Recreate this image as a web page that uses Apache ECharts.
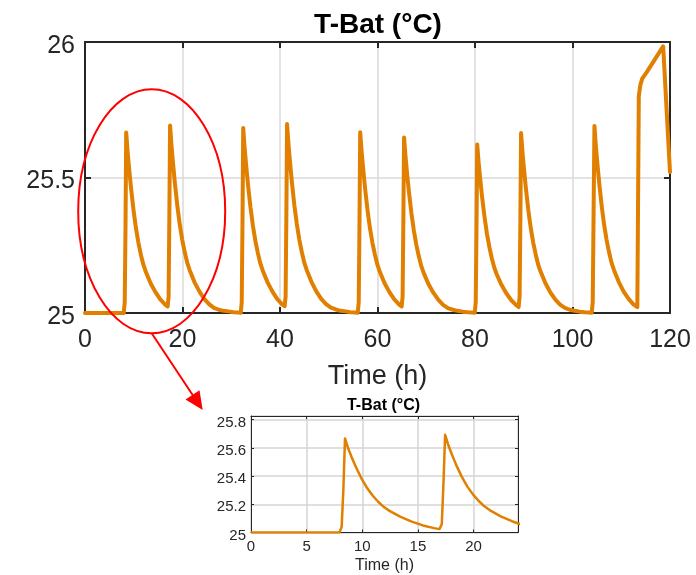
<!DOCTYPE html>
<html>
<head>
<meta charset="utf-8">
<script src="https://cdn.jsdelivr.net/npm/echarts@6/dist/echarts.min.js"></script>
<style>
html,body{margin:0;padding:0;background:#fff;}
#c{width:696px;height:575px;}
</style>
</head>
<body>
<div id="c"></div>
<script>
// ---- data: [time (h), battery temperature (°C)] ----
var day1 = [
  [0,25],[7.95,25.0],[8.15,25.04],[8.3,25.3],[8.45,25.666],
  [8.75,25.593],[9.05,25.533],[9.45,25.46],[9.95,25.38],[10.45,25.313],[10.95,25.26],[11.45,25.216],[11.95,25.18],[12.45,25.153],[13.45,25.11],[14.45,25.077],[15.45,25.05],[16.45,25.031],[16.95,25.024],
  [17.15,25.06],[17.3,25.35],[17.45,25.692],
  [17.75,25.616],[18.05,25.554],[18.45,25.477],[18.95,25.394],[19.45,25.325],[19.95,25.27],[20.45,25.225],[20.95,25.187],[21.45,25.159],[22.45,25.114],[23.45,25.08]
];
var day2 = [
  [24.45,25.052],[25.45,25.033],[26.45,25.019],[27.45,25.012],[28.45,25.008],[29.45,25.006],[30.45,25.003],[31.45,25.002],[31.95,25.001],
  [32.15,25.04],[32.3,25.32],[32.45,25.683],
  [32.75,25.608],[33.05,25.546],[33.45,25.471],[33.95,25.389],[34.45,25.321],[34.95,25.266],[35.45,25.222],[35.95,25.184],[36.45,25.157],[37.45,25.113],[38.45,25.079],[39.45,25.051],[40.45,25.032],[40.95,25.025],
  [41.15,25.06],[41.3,25.35],[41.45,25.697],
  [41.75,25.62],[42.05,25.558],[42.45,25.481],[42.95,25.397],[43.45,25.328],[43.95,25.272],[44.45,25.227],[44.95,25.188],[45.45,25.16],[46.45,25.115],[47.45,25.08]
];
var day3 = [
  [48.45,25.052],[49.45,25.033],[50.45,25.02],[51.45,25.013],[52.45,25.008],[53.45,25.006],[54.45,25.003],[55.45,25.002],[55.95,25.001],
  [56.15,25.04],[56.3,25.32],[56.45,25.667],
  [56.75,25.594],[57.05,25.534],[57.45,25.46],[57.95,25.38],[58.45,25.313],[58.95,25.26],[59.45,25.217],[59.95,25.18],[60.45,25.153],[61.45,25.11],[62.45,25.077],[63.45,25.05],[64.45,25.031],[64.95,25.024],
  [65.15,25.06],[65.3,25.33],[65.45,25.648],
  [65.75,25.577],[66.05,25.518],[66.45,25.447],[66.95,25.369],[67.45,25.305],[67.95,25.253],[68.45,25.211],[68.95,25.175],[69.45,25.149],[70.45,25.107],[71.45,25.075]
];
var day4 = [
  [72.45,25.049],[73.45,25.03],[74.45,25.018],[75.45,25.012],[76.45,25.008],[77.45,25.005],[78.45,25.003],[79.45,25.002],[79.95,25.001],
  [80.15,25.04],[80.3,25.3],[80.45,25.622],
  [80.75,25.554],[81.05,25.498],[81.45,25.429],[81.95,25.355],[82.45,25.292],[82.95,25.243],[83.45,25.202],[83.95,25.168],[84.45,25.143],[85.45,25.103],[86.45,25.072],[87.45,25.047],[88.45,25.029],[88.95,25.022],
  [89.15,25.06],[89.3,25.33],[89.45,25.664],
  [89.75,25.591],[90.05,25.531],[90.45,25.458],[90.95,25.378],[91.45,25.312],[91.95,25.259],[92.45,25.216],[92.95,25.179],[93.45,25.153],[94.45,25.11],[95.45,25.076]
];
var day5 = [
  [96.45,25.05],[97.45,25.031],[98.45,25.019],[99.45,25.012],[100.45,25.008],[101.45,25.005],[102.45,25.003],[103.45,25.002],[103.95,25.001],
  [104.15,25.04],[104.3,25.32],[104.5,25.69],
  [104.8,25.614],[105.1,25.552],[105.5,25.476],[106,25.393],[106.5,25.324],[107,25.269],[107.5,25.224],[108,25.186],[108.5,25.159],[109.5,25.114],[110.5,25.079],[111.5,25.052],[112.5,25.032],[113.3,25.022],
  [113.6,25.80],[113.9,25.84],[114.3,25.865],[115.2,25.888],[118.6,25.984],[120,25.52]
];
var tempSeries = day1.concat(day2, day3, day4, day5);

var titleText = 'T-Bat (°C)';
var xName = 'Time (h)';
var mainX = {min: 0, max: 120, interval: 20};
var mainY = {min: 25, max: 26, interval: 0.5};
var insetX = {min: 0, max: 24, interval: 5};
var insetY = {min: 25, max: 25.825, interval: 0.2};

var FONT = '"Liberation Sans", Arial, Helvetica, sans-serif';
var DARK = '#262626';
var ORANGE = '#E07F00';

function boxAxis(gridIndex, pos, rng, tickLen, lw) {
  return {
    type: 'value', gridIndex: gridIndex, position: pos,
    min: rng.min, max: rng.max, interval: rng.interval,
    axisLine: {show: true, onZero: false, lineStyle: {color: DARK, width: lw}},
    axisTick: {show: true, inside: true, length: tickLen, lineStyle: {color: DARK, width: lw}},
    axisLabel: {show: false},
    splitLine: {show: false}
  };
}

var chart = echarts.init(document.getElementById('c'));
chart.setOption({
  animation: false,
  backgroundColor: '#fff',
  title: [
    {text: titleText, left: 373, top: 6, textAlign: 'center',
     textStyle: {fontFamily: FONT, fontWeight: 'bold', fontSize: 28, color: '#000'}},
    {text: titleText, left: 378.5, top: 393, textAlign: 'center',
     textStyle: {fontFamily: FONT, fontWeight: 'bold', fontSize: 16, color: '#000'}}
  ],
  grid: [
    {left: 85, right: 26, top: 42, bottom: 262, containLabel: false},
    {left: 251, right: 178, top: 416, bottom: 42.5, containLabel: false}
  ],
  xAxis: [
    {
      type: 'value', gridIndex: 0, position: 'bottom',
      min: mainX.min, max: mainX.max, interval: mainX.interval,
      name: xName, nameLocation: 'middle', nameGap: 50,
      nameTextStyle: {fontFamily: FONT, fontSize: 27, color: DARK},
      axisLine: {show: true, onZero: false, lineStyle: {color: DARK, width: 2}},
      axisTick: {show: true, inside: true, length: 6, lineStyle: {color: DARK, width: 2}},
      axisLabel: {fontFamily: FONT, fontSize: 25, color: DARK, margin: 15},
      splitLine: {show: true, lineStyle: {color: '#dadada', width: 1.5}}
    },
    boxAxis(0, 'top', mainX, 6, 2),
    {
      type: 'value', gridIndex: 1, position: 'bottom',
      min: insetX.min, max: insetX.max, interval: insetX.interval,
      name: xName, nameLocation: 'middle', nameGap: 25,
      nameTextStyle: {fontFamily: FONT, fontSize: 16, color: DARK},
      axisLine: {show: true, onZero: false, lineStyle: {color: DARK, width: 1}},
      axisTick: {show: true, inside: true, length: 3, lineStyle: {color: DARK, width: 1}},
      axisLabel: {fontFamily: FONT, fontSize: 15, color: DARK, margin: 7, showMaxLabel: false},
      splitLine: {show: true, lineStyle: {color: '#d4d4d4', width: 1.5}}
    },
    boxAxis(1, 'top', insetX, 3, 1)
  ],
  yAxis: [
    {
      type: 'value', gridIndex: 0, position: 'left',
      min: mainY.min, max: mainY.max, interval: mainY.interval,
      axisLine: {show: true, onZero: false, lineStyle: {color: DARK, width: 2}},
      axisTick: {show: true, inside: true, length: 6, lineStyle: {color: DARK, width: 2}},
      axisLabel: {fontFamily: FONT, fontSize: 25, color: DARK, margin: 10, verticalAlign: 'top', lineHeight: 8},
      splitLine: {show: true, lineStyle: {color: '#dadada', width: 1.5}}
    },
    boxAxis(0, 'right', mainY, 6, 2),
    {
      type: 'value', gridIndex: 1, position: 'left',
      min: insetY.min, max: insetY.max, interval: insetY.interval,
      axisLine: {show: true, onZero: false, lineStyle: {color: DARK, width: 1}},
      axisTick: {show: true, inside: true, length: 3, lineStyle: {color: DARK, width: 1}},
      axisLabel: {fontFamily: FONT, fontSize: 15, color: DARK, margin: 5, verticalAlign: 'top', lineHeight: 6, showMaxLabel: false},
      splitLine: {show: true, lineStyle: {color: '#d4d4d4', width: 1.5}}
    },
    boxAxis(1, 'right', insetY, 3, 1)
  ],
  series: [
    {type: 'line', xAxisIndex: 0, yAxisIndex: 0, data: tempSeries, showSymbol: false, clip: true,
     lineStyle: {color: ORANGE, width: 4, join: 'round', cap: 'round'}},
    {type: 'line', xAxisIndex: 2, yAxisIndex: 2, data: tempSeries, showSymbol: false, clip: true,
     lineStyle: {color: ORANGE, width: 2.5, join: 'round'}}
  ],
  graphic: [
    {type: 'ellipse', shape: {cx: 151.7, cy: 211.3, rx: 73.5, ry: 122},
     style: {fill: null, stroke: '#FF0000', lineWidth: 2}, z: 100},
    {type: 'line', shape: {x1: 151.7, y1: 333.3, x2: 193, y2: 395.5},
     style: {stroke: '#FF0000', lineWidth: 2}, z: 100},
    {type: 'polygon', shape: {points: [[202.7, 410], [185.5, 399.5], [199.5, 390.2]]},
     style: {fill: '#FF0000'}, z: 100}
  ]
});
</script>
</body>
</html>
